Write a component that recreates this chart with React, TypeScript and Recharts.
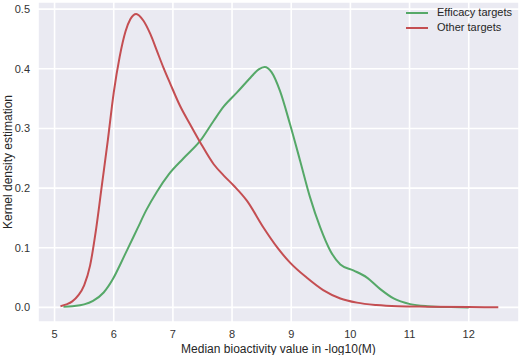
import { LineChart, Line, XAxis, YAxis, CartesianGrid, Legend } from "recharts";

// KDE curves (x = -log10(M), y = density)
const otherX = [5.1, 5.2, 5.3, 5.4, 5.5, 5.6, 5.7, 5.8, 5.9, 6.0, 6.1, 6.2, 6.28, 6.38, 6.5, 6.62, 6.73, 6.84, 6.96, 7.12, 7.29, 7.46, 7.69, 7.86, 8.03, 8.25, 8.53, 8.76, 8.98, 9.26, 9.54, 9.83, 10.11, 10.44, 10.8, 11.3, 12.0, 12.5];
const otherY = [0.002, 0.005, 0.01, 0.02, 0.037, 0.07, 0.13, 0.205, 0.28, 0.36, 0.42, 0.463, 0.483, 0.492, 0.481, 0.458, 0.43, 0.402, 0.374, 0.338, 0.307, 0.277, 0.24, 0.221, 0.204, 0.179, 0.134, 0.101, 0.075, 0.05, 0.029, 0.015, 0.008, 0.004, 0.002, 0.0012, 0.0005, 0.0002];

const efficacyX = [5.15, 5.3, 5.5, 5.65, 5.83, 6.0, 6.11, 6.24, 6.4, 6.55, 6.73, 6.93, 7.18, 7.46, 7.69, 7.86, 8.08, 8.31, 8.45, 8.55, 8.67, 8.81, 8.98, 9.15, 9.32, 9.49, 9.66, 9.83, 10.05, 10.28, 10.5, 10.73, 11.01, 11.3, 11.7, 12.0];
const efficacyY = [0.001, 0.002, 0.005, 0.011, 0.025, 0.05, 0.072, 0.099, 0.132, 0.163, 0.194, 0.223, 0.25, 0.279, 0.313, 0.337, 0.36, 0.385, 0.399, 0.403, 0.394, 0.363, 0.307, 0.246, 0.184, 0.134, 0.095, 0.072, 0.062, 0.05, 0.031, 0.015, 0.0055, 0.002, 0.0005, 0];

const xTicks = [5, 6, 7, 8, 9, 10, 11, 12];
const yTicks = [0, 0.1, 0.2, 0.3, 0.4, 0.5];

const GREEN = "#55A868";
const RED = "#C44E52";
const FONT = "'Liberation Sans', Arial, sans-serif";

const otherData = otherX.map((x, i) => ({ x, y: otherY[i] }));
const efficacyData = efficacyX.map((x, i) => ({ x, y: efficacyY[i] }));

const legendItems = [
  { label: "Efficacy targets", color: GREEN },
  { label: "Other targets", color: RED },
];

function KdeLegend() {
  return (
    <div style={{ fontFamily: FONT, fontSize: 11, color: "#262626" }}>
      {legendItems.map((item) => (
        <div key={item.label} style={{ display: "flex", alignItems: "center", height: 15, lineHeight: "15px" }}>
          <svg width={22} height={4} style={{ marginRight: 9 }}>
            <line x1={0} y1={2} x2={22} y2={2} stroke={item.color} strokeWidth={2} />
          </svg>
          <span>{item.label}</span>
        </div>
      ))}
    </div>
  );
}

export default function App() {
  return (
    <div style={{ position: "absolute", left: 0, top: 0, background: "#fff" }}>
      <LineChart width={520} height={355} margin={{ top: 2, right: 1, left: 0, bottom: 0 }}>
        <CartesianGrid fill="#EAEAF2" fillOpacity={1} stroke="#ffffff" strokeWidth={1.6} />
        <XAxis
          type="number"
          dataKey="x"
          domain={[4.72, 12.85]}
          ticks={xTicks}
          allowDataOverflow
          height={33}
          axisLine={false}
          tickLine={false}
          tick={{ fill: "#333", fontSize: 11, fontFamily: FONT }}
          label={{
            content: ({ viewBox }: any) => (
              <text
                x={viewBox.x + viewBox.width / 2}
                y={viewBox.y + 27}
                textAnchor="middle"
                dominantBaseline="central"
                fill="#262626"
                fontSize={12}
                fontFamily={FONT}
              >
                Median bioactivity value in -log10(M)
              </text>
            ),
          }}
        />
        <YAxis
          type="number"
          domain={[-0.0245, 0.512]}
          ticks={yTicks}
          allowDataOverflow
          width={38}
          axisLine={false}
          tickLine={false}
          tickFormatter={(v: number) => v.toFixed(1)}
          tick={{ fill: "#333", fontSize: 11, fontFamily: FONT }}
          label={{
            content: ({ viewBox }: any) => {
              const cx = viewBox.x + 8;
              const cy = viewBox.y + viewBox.height / 2;
              return (
                <text
                  x={cx}
                  y={cy}
                  transform={`rotate(-90, ${cx}, ${cy})`}
                  textAnchor="middle"
                  dominantBaseline="central"
                  fill="#262626"
                  fontSize={12}
                  fontFamily={FONT}
                >
                  Kernel density estimation
                </text>
              );
            },
          }}
        />
        <Legend
          layout="vertical"
          align="center"
          verticalAlign="middle"
          wrapperStyle={{ top: 5, left: 406, width: "auto" }}
          content={<KdeLegend />}
        />
        <Line
          data={efficacyData}
          dataKey="y"
          name="Efficacy targets"
          type="monotone"
          stroke={GREEN}
          strokeWidth={2}
          dot={false}
          isAnimationActive={false}
        />
        <Line
          data={otherData}
          dataKey="y"
          name="Other targets"
          type="monotone"
          stroke={RED}
          strokeWidth={2}
          dot={false}
          isAnimationActive={false}
        />
      </LineChart>
    </div>
  );
}
